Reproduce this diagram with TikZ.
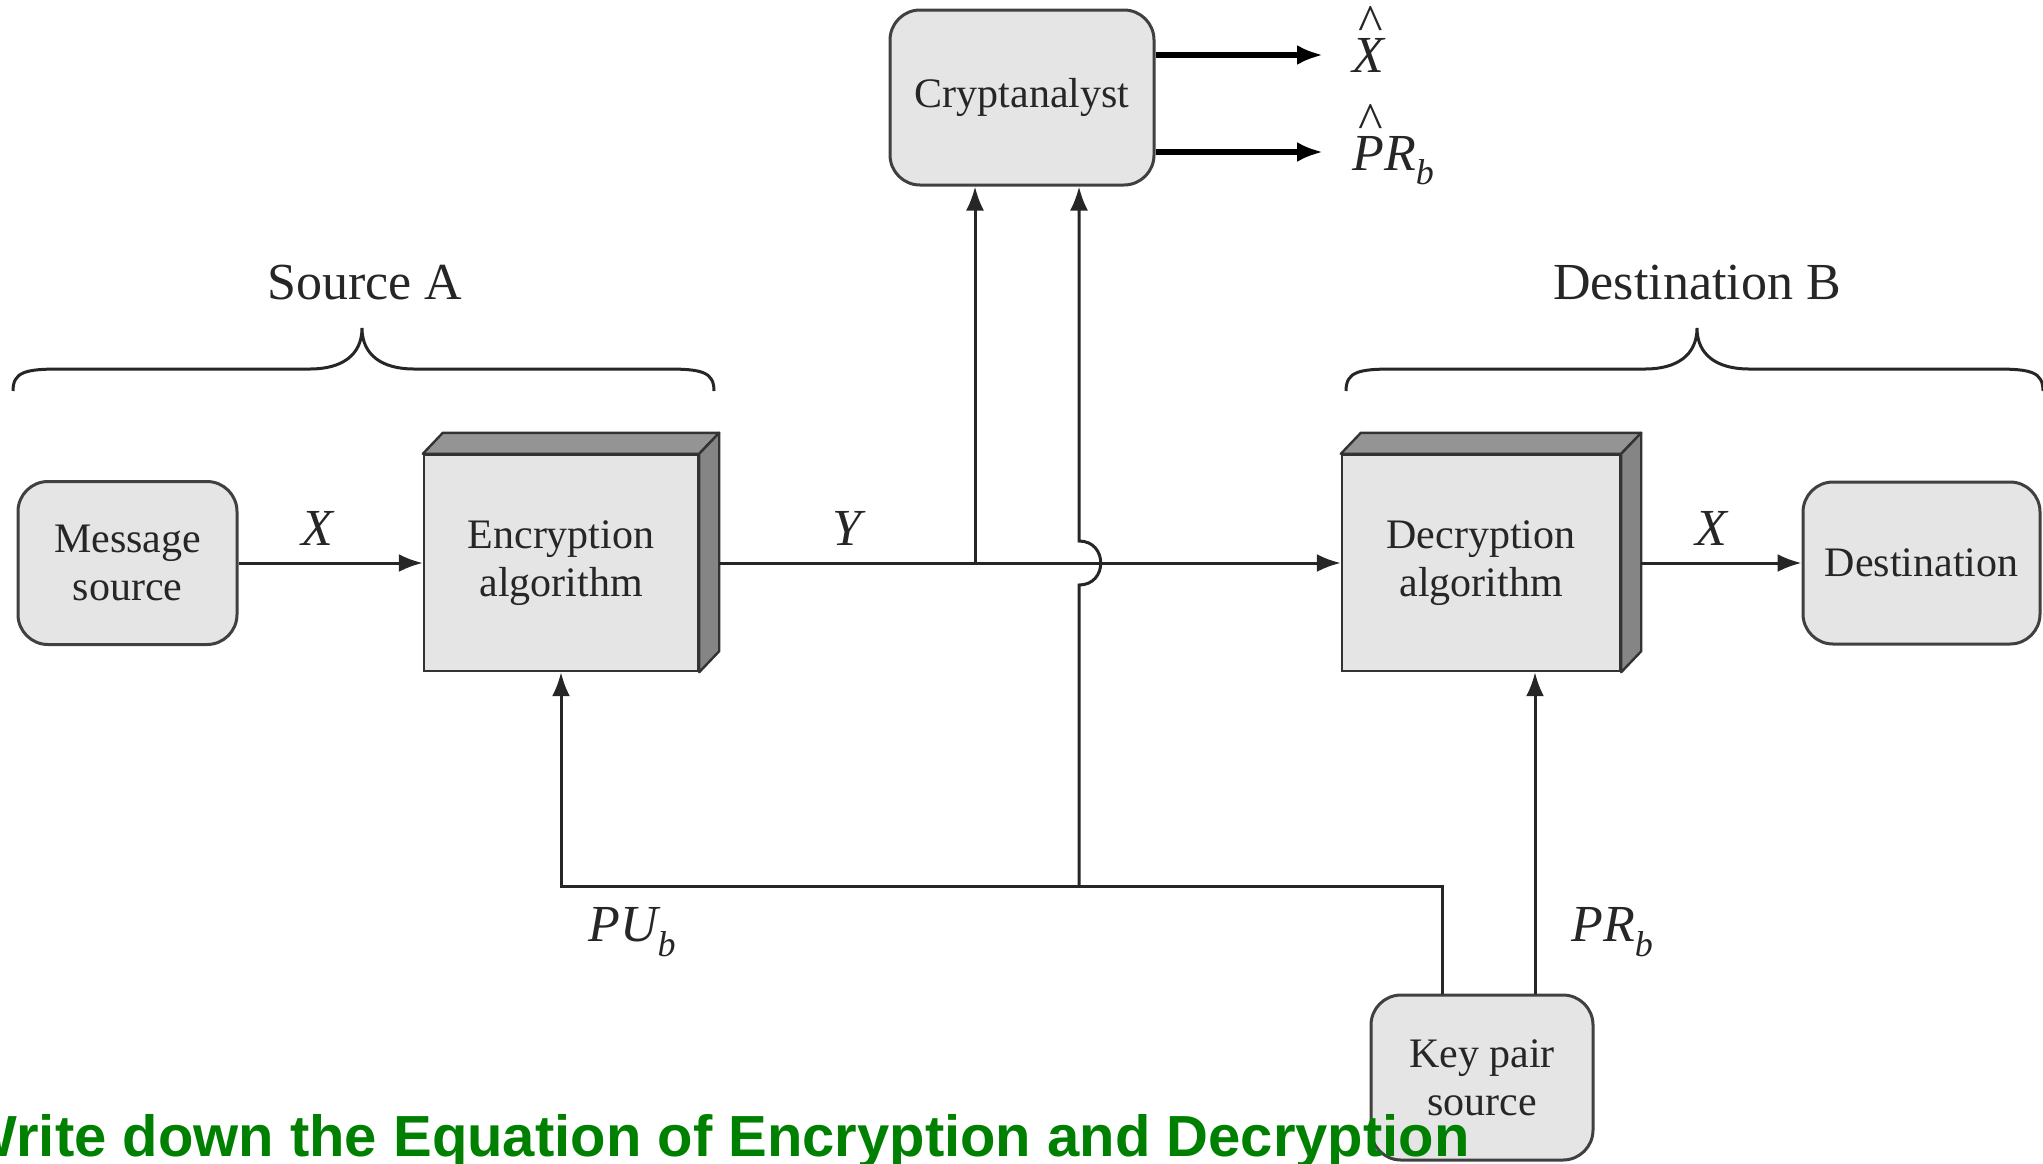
\documentclass[tikz,border=0pt]{standalone}
\usepackage{fontspec}
\setmainfont{Liberation Serif}
\newfontfamily\notesans{Liberation Sans}
\usetikzlibrary{arrows.meta,calc}
% caret set above a letter, as in an estimate of X
\newcommand{\caretover}[1]{\begin{tabular}[b]{@{}c@{}}\textasciicircum\\[-0.55em]\textit{#1}\end{tabular}}
\newcommand{\subb}{\raisebox{-0.28em}{\fontsize{18}{18}\selectfont\textit{b}}}
\begin{document}
\begin{tikzpicture}[x=0.5pt,y=-0.5pt,
  boxtext/.style={font=\fontsize{21}{24}\selectfont, text=black!85, align=center},
  roundbox/.style={boxtext, draw=black!75, line width=1.5pt, fill=black!10,
    rounded corners=15pt, inner sep=0pt},
  cubeface/.style={boxtext, draw=black!80, line width=1.2pt, fill=black!10, inner sep=0pt},
  cubetop/.style={draw=black!80, line width=1.2pt, fill=black!42, line join=round},
  cubeside/.style={draw=black!80, line width=1.2pt, fill=black!48, line join=round},
  conn/.style={draw=black!85, line width=1.5pt},
  arr/.style={conn, -{Latex[length=12pt,width=9pt]}},
  thickarr/.style={draw=black, line width=2.6pt, -{Latex[length=13pt,width=10pt]}},
  lab/.style={font=\fontsize{26}{30}\selectfont\itshape, text=black!85, inner sep=0pt},
  head/.style={font=\fontsize{26}{30}\selectfont, text=black!85, inner sep=0pt},
  curly/.style={draw=black!85, line width=1.5pt}]
\useasboundingbox (0,0) rectangle (2043,1163);
\clip (0,0) rectangle (2043,1163);

% boxes
\node[roundbox, minimum width=109.5pt, minimum height=81.5pt] (msg) at (127.5,563) {Message\\source};
\node[cubeface, minimum width=137pt, minimum height=108pt] (enc) at (561,563) {Encryption\\algorithm};
\node[cubeface, minimum width=139pt, minimum height=108pt] (dec) at (1481,563) {Decryption\\algorithm};
\node[roundbox, minimum width=118.5pt, minimum height=81pt] (dst) at (1921.5,563) {Destination};
\node[roundbox, minimum width=132pt, minimum height=87.5pt] (crypt) at (1022,97.5) {Cryptanalyst};
\node[roundbox, minimum width=111pt, minimum height=82.5pt] (keys) at (1482,1077.5) {Key pair\\source};

% raised top and side faces of the two algorithm blocks
\foreach \b in {enc,dec}{
  \filldraw[cubetop] (\b.north west) -- ++(20,-21) -- ($(\b.north east)+(20,-21)$) -- (\b.north east) -- cycle;
  \filldraw[cubeside] (\b.north east) -- ++(20,-21) -- ($(\b.south east)+(20,-21)$) -- (\b.south east) -- cycle;
}

% main channel
\draw[arr] (msg.east) -- (enc.west);
\draw[arr] ($(enc.east)+(20,0)$) -- (dec.west);
\draw[arr] ($(dec.east)+(20,0)$) -- (dst.west);

% junctions
\coordinate (tap) at (975,563);
\coordinate (pujn) at (1079,886);
\coordinate (keyL) at ($(keys.north)+(-40,0)$);
\coordinate (keyR) at ($(keys.north)+(53,0)$);

% ciphertext and public key seen by the cryptanalyst
\draw[arr] (tap) -- (tap |- crypt.south);
\draw[arr] (pujn) -- ($(pujn |- tap)+(0,22)$)
  .. controls +(29,0) and +(29,0) .. ($(pujn |- tap)+(0,-22)$)
  -- (pujn |- crypt.south);

% key distribution
\draw[arr] (keyL) |- (pujn) -| (enc.south);
\draw[arr] (keyR) -- (keyR |- dec.south);

% cryptanalyst outputs
\node[lab, anchor=base west] (xhat) at (1352,72) {\caretover{X}};
\node[lab, anchor=base west] (prhat) at (1352,170) {\caretover{P}\textit{R}\subb};
\draw[thickarr] (crypt.east |- 0,55) -- (1323,55);
\draw[thickarr] (crypt.east |- 0,152) -- (1323,152);

% channel labels
\node[lab] (xin) at (317,528) {X};
\node[lab] (ylab) at (847,528) {Y};
\node[lab] (xout) at (1711,528) {X};
\node[lab] (pub) at (632,932) {PU\subb};
\node[lab] (prv) at (1612,932) {PR\subb};

% party braces
\node[head] (srcA) at (365,283) {Source A};
\node[head] (dstB) at (1697,283) {Destination B};
\draw[curly] (13,391) .. controls (13,372) and (25,369) .. (60,369) -- (310,369)
  .. controls (342,369) and (362,355) .. (362,328)
  .. controls (362,355) and (382,369) .. (414,369) -- (667,369)
  .. controls (702,369) and (714,372) .. (714,391);
\draw[curly] (1346,391) .. controls (1346,372) and (1358,369) .. (1393,369) -- (1645,369)
  .. controls (1677,369) and (1697,355) .. (1697,328)
  .. controls (1697,355) and (1717,369) .. (1749,369) -- (1996,369)
  .. controls (2031,369) and (2043,372) .. (2043,391);

% question line
\node[font=\notesans\bfseries\fontsize{29}{34}\selectfont, text=green!50!black,
  anchor=base east, inner sep=0pt] (task) at (1470,1156)
  {Write down the Equation of Encryption and Decryption};
\end{tikzpicture}
\end{document}
